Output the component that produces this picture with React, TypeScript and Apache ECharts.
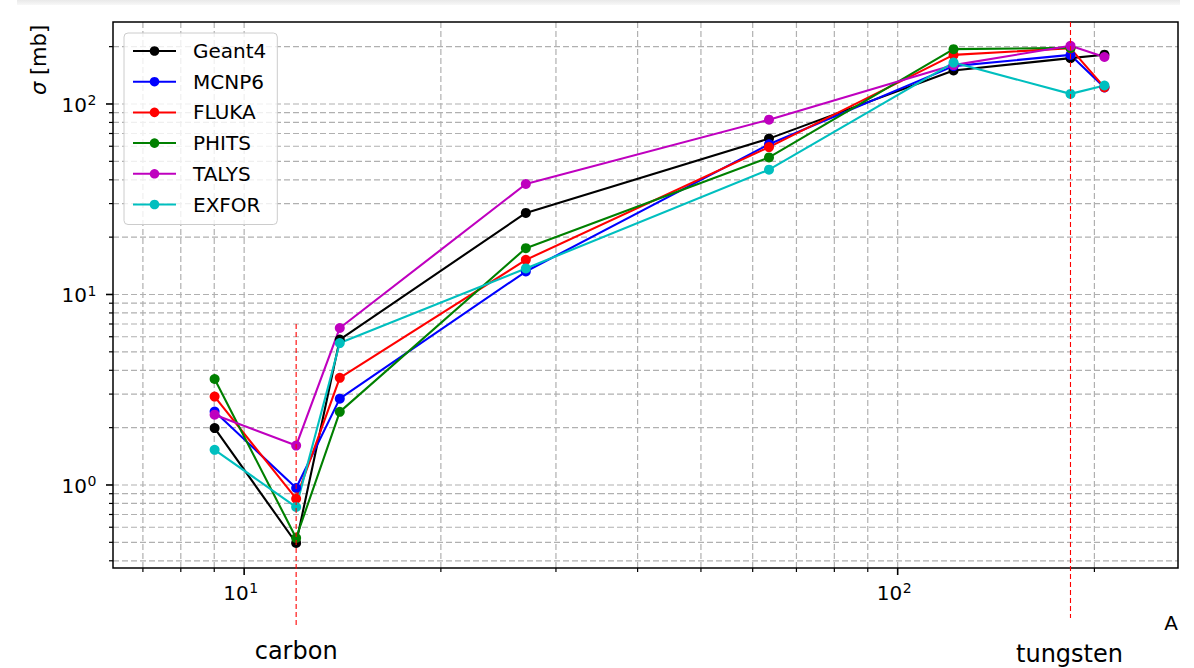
import React, { useEffect, useRef } from "react";
import * as echarts from "echarts";

// ---- data ----
const massNumbers = [9.012, 12.011, 14.007, 26.98, 63.55, 121.76, 183.84, 207.2];
const seriesNames = ["Geant4", "MCNP6", "FLUKA", "PHITS", "TALYS", "EXFOR"];
const geant4 = [1.99, 0.496, 5.8, 26.8, 65.8, 150, 174, 181.5];
const mcnp6 = [2.43, 0.964, 2.84, 13.2, 61.5, 158, 181, 122];
const fluka = [2.91, 0.847, 3.65, 15.2, 59.4, 181, 196, 122.3];
const phits = [3.6, 0.527, 2.42, 17.5, 52.4, 194, 197, null];
const talys = [2.34, 1.61, 6.67, 38.0, 82.7, 160, 202, 176.5];
const exfor = [1.53, 0.766, 5.56, 13.7, 45.2, 165, 113, 125];
const seriesColors = ["#000000", "#0000ff", "#ff0000", "#008000", "#bf00bf", "#00bfbf"];

const X_MIN = 6.3;
const X_MAX = 268.5;
const Y_MIN = 0.3666;
const Y_MAX = 269.4;

const xMajorTicks = [10, 100];
const xMajorExponents = ["1", "2"];
const xMinorTicks = [7, 8, 9, 20, 30, 40, 50, 60, 70, 80, 90, 200];
const yMajorTicks = [1, 10, 100];
const yMajorExponents = ["0", "1", "2"];
const yMinorTicks = [0.4, 0.5, 0.6, 0.7, 0.8, 0.9, 2, 3, 4, 5, 6, 7, 8, 9, 20, 30, 40, 50, 60, 70, 80, 90, 200];

const markerLines = [
  { name: "carbon", a: 12.011, top: 7 as number | null, below: 59, labelDx: 0, labelY: 651 },
  { name: "tungsten", a: 183.84, top: null as number | null, below: 50, labelDx: -1, labelY: 654 },
];

const FONT = "DejaVu Sans";

export default function App() {
  const ref = useRef<HTMLDivElement>(null);

  useEffect(() => {
    const chart = echarts.init(ref.current!, null, { renderer: "svg" });
    const dataSets = [geant4, mcnp6, fluka, phits, talys, exfor];

    chart.setOption({
      animation: false,
      grid: { left: 113, top: 22, width: 1065, height: 546, show: false },
      xAxis: {
        type: "log",
        logBase: 10,
        min: X_MIN,
        max: X_MAX,
        axisLine: { show: false },
        axisTick: { show: false },
        axisLabel: { show: false },
        splitLine: { show: false },
      },
      yAxis: {
        type: "log",
        logBase: 10,
        min: Y_MIN,
        max: Y_MAX,
        axisLine: { show: false },
        axisTick: { show: false },
        axisLabel: { show: false },
        splitLine: { show: false },
      },
      legend: {
        orient: "vertical",
        left: 124,
        top: 33,
        padding: [8, 11, 10, 8],
        itemWidth: 43,
        itemHeight: 12,
        itemGap: 10.7,
        data: seriesNames,
        textStyle: { fontSize: 20, fontFamily: FONT, color: "#000", lineHeight: 20, padding: [0, 0, 0, 12] },
        backgroundColor: "rgba(255,255,255,0.8)",
        borderColor: "#cccccc",
        borderWidth: 1,
        borderRadius: 4,
      },
      series: dataSets.map((d, i) => ({
        type: "line",
        name: seriesNames[i],
        data: massNumbers
          .map((a, j) => (d[j] == null ? null : [a, d[j]]))
          .filter((p) => p !== null),
        symbol: "circle",
        symbolSize: 10,
        showSymbol: true,
        lineStyle: { width: 2.1, color: seriesColors[i] },
        itemStyle: { color: seriesColors[i] },
        z: 3,
      })),
    });

    const px = (v: number) => chart.convertToPixel({ xAxisIndex: 0 }, v) as number;
    const py = (v: number) => chart.convertToPixel({ yAxisIndex: 0 }, v) as number;
    const xl = px(X_MIN), xr = px(X_MAX);
    const yb = py(Y_MIN), yt = py(Y_MAX);

    const el: any[] = [];
    const gridStyle = { stroke: "#b0b0b0", lineWidth: 1.2, lineDash: [6, 3] };
    [...xMinorTicks, ...xMajorTicks].forEach((v) => {
      const x = px(v);
      el.push({ type: "line", silent: true, z: 0, shape: { x1: x, y1: yt, x2: x, y2: yb }, style: gridStyle });
      const major = xMajorTicks.includes(v);
      el.push({
        type: "line", silent: true, z: 10,
        shape: { x1: x, y1: yb, x2: x, y2: yb + (major ? 7 : 4) },
        style: { stroke: "#000", lineWidth: major ? 1.6 : 1.2 },
      });
    });
    [...yMinorTicks, ...yMajorTicks].forEach((v) => {
      const y = py(v);
      el.push({ type: "line", silent: true, z: 0, shape: { x1: xl, y1: y, x2: xr, y2: y }, style: gridStyle });
      const major = yMajorTicks.includes(v);
      el.push({
        type: "line", silent: true, z: 10,
        shape: { x1: xl - (major ? 7 : 4), y1: y, x2: xl, y2: y },
        style: { stroke: "#000", lineWidth: major ? 1.6 : 1.2 },
      });
    });
    // frame
    el.push({
      type: "rect", silent: true, z: 10,
      shape: { x: xl, y: yt, width: xr - xl, height: yb - yt },
      style: { fill: "none", stroke: "#000", lineWidth: 1.5 },
    });
    // tick labels
    xMajorTicks.forEach((v, i) => {
      const x = px(v);
      el.push({ type: "text", silent: true, z: 10, x: x + 4.5, y: yb + 24.5,
        style: { text: "10", font: `20px '${FONT}'`, fill: "#000", align: "right", verticalAlign: "middle" } });
      el.push({ type: "text", silent: true, z: 10, x: x + 5, y: yb + 20,
        style: { text: xMajorExponents[i], font: `14px '${FONT}'`, fill: "#000", align: "left", verticalAlign: "middle" } });
    });
    yMajorTicks.forEach((v, i) => {
      const y = py(v);
      el.push({ type: "text", silent: true, z: 10, x: 87, y: y + 0.7,
        style: { text: "10", font: `20px '${FONT}'`, fill: "#000", align: "right", verticalAlign: "middle" } });
      el.push({ type: "text", silent: true, z: 10, x: 87.5, y: y - 3.5,
        style: { text: yMajorExponents[i], font: `14px '${FONT}'`, fill: "#000", align: "left", verticalAlign: "middle" } });
    });
    // axis titles
    el.push({
      type: "text", silent: true, z: 10, x: 39, y: 60, rotation: Math.PI / 2,
      style: {
        text: "{i|σ} {n|[mb]}",
        font: `21px '${FONT}'`,
        fill: "#000",
        align: "center",
        verticalAlign: "middle",
        rich: {
          i: { fontStyle: "italic", fontSize: 21, fontFamily: FONT, fill: "#000" },
          n: { fontSize: 21, fontFamily: FONT, fill: "#000" },
        },
      },
    });
    el.push({ type: "text", silent: true, z: 10, x: 1171, y: 623,
      style: { text: "A", font: `20px '${FONT}'`, fill: "#000", align: "center", verticalAlign: "middle" } });
    // marker lines
    markerLines.forEach((m) => {
      const x = px(m.a);
      const top = m.top == null ? yt : py(m.top);
      el.push({ type: "line", silent: true, z: 11,
        shape: { x1: x, y1: top, x2: x, y2: yb + m.below },
        style: { stroke: "#ff0000", lineWidth: 1.1, lineDash: [5, 3] } });
      el.push({ type: "text", silent: true, z: 10, x: x + m.labelDx, y: m.labelY,
        style: { text: m.name, font: `24px '${FONT}'`, fill: "#000", align: "center", verticalAlign: "middle" } });
    });

    chart.setOption({ graphic: { elements: el } });
    return () => chart.dispose();
  }, []);

  return (
    <div style={{ position: "absolute", left: 0, top: 0, width: 1194, height: 668, background: "#fff" }}>
      <div style={{ position: "absolute", left: 17, top: 0, width: 1163, height: 5, background: "linear-gradient(#e9e9e9, #f8f8f8)" }} />
      <div ref={ref} style={{ position: "absolute", left: 0, top: 0, width: 1194, height: 668 }} />
    </div>
  );
}
